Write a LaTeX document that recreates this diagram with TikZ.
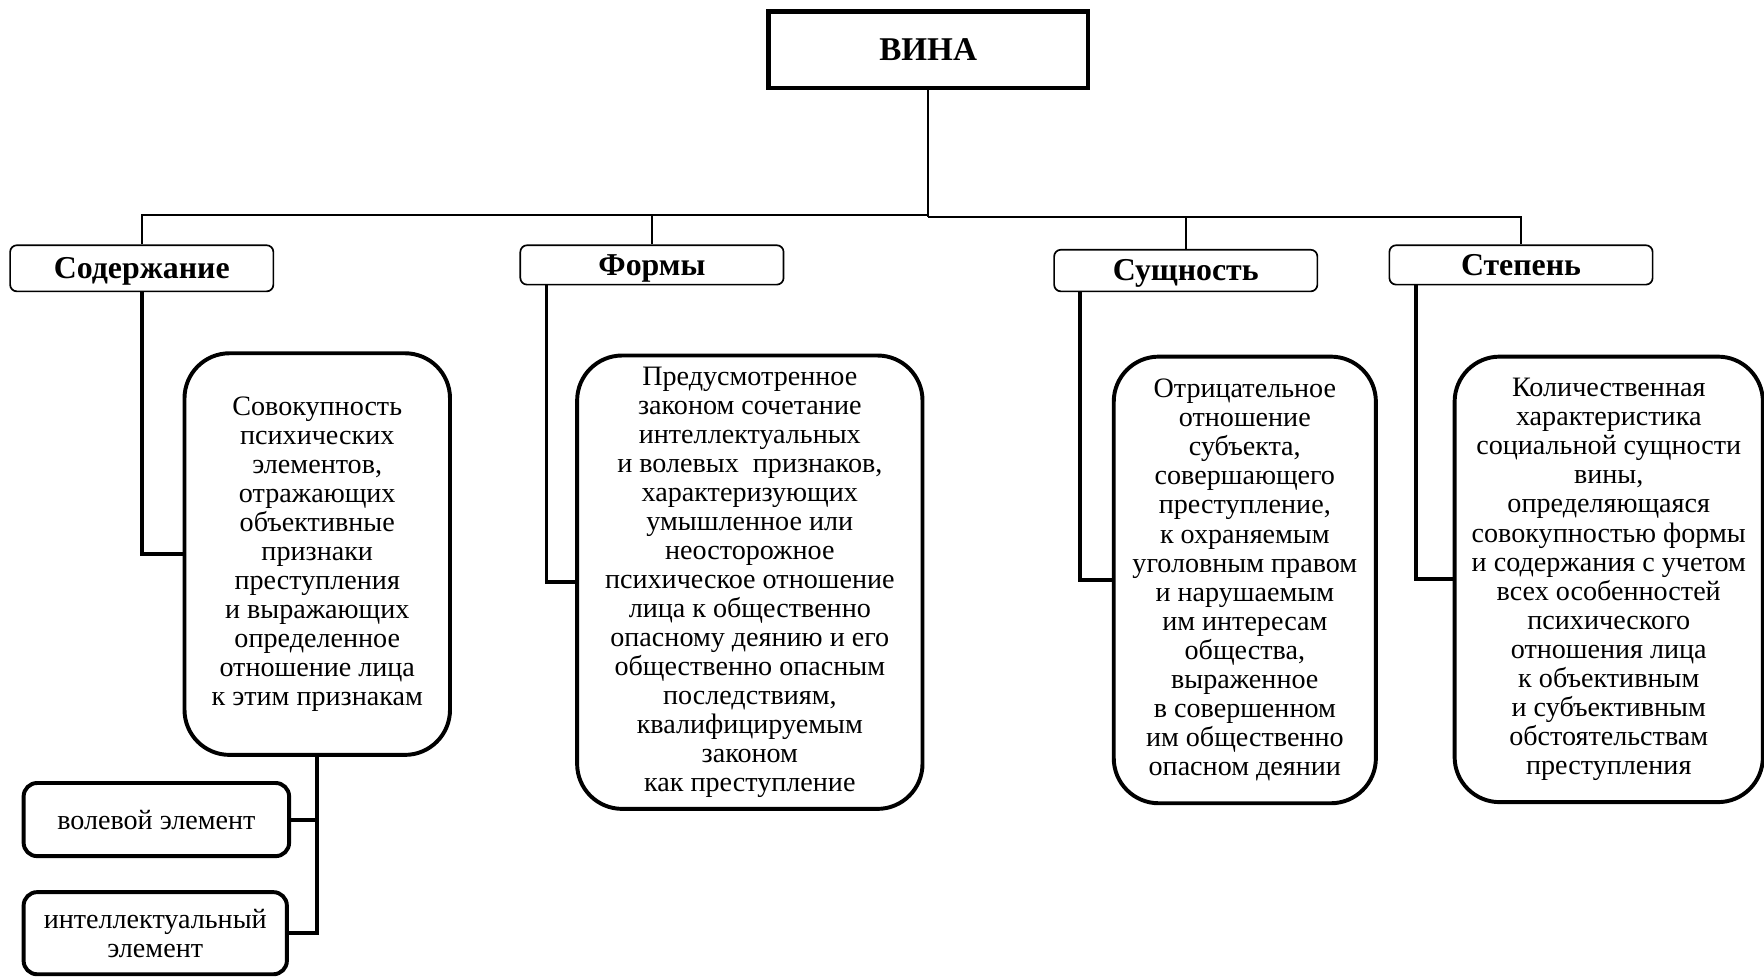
\documentclass[tikz,border=0pt]{standalone}
\usepackage{fontspec}
\setmainfont{Liberation Serif}
\begin{document}
\begin{tikzpicture}[x=1pt,y=-1pt,
  thinline/.style={line width=1.5pt},
  thickline/.style={line width=3.5pt},
  rootbox/.style={draw,line width=4pt,inner sep=0pt,minimum width=284pt,minimum height=68pt,font=\bfseries\fontsize{29.5}{32}\selectfont},
  titlebox/.style={draw,line width=1.5pt,rounded corners=6pt,inner sep=0pt,minimum width=234pt,text height=23pt,text depth=5pt,font=\bfseries\fontsize{28.3}{31}\selectfont},
  bigbox/.style={draw,line width=3.5pt,rounded corners=40pt,inner sep=0pt,align=center,font=\fontsize{25}{25.8}\selectfont},
  smallbox/.style={draw,line width=3.5pt,rounded corners=12pt,inner sep=0pt,align=center,minimum width=236pt,font=\fontsize{25}{25.8}\selectfont}
]
\useasboundingbox (0,0) rectangle (1568,868);
\node[rootbox] (vina) at (825,44) {ВИНА};
\node[titlebox,minimum height=41pt] (sod) at (126,238.5) {Содержание};
\node[titlebox,minimum height=35pt] (form) at (579.5,235.5) {Формы};
\node[titlebox,minimum height=37pt] (sush) at (1054,240.5) {Сущность};
\node[titlebox,minimum height=35pt] (step) at (1352,235.5) {Степень};

\node[bigbox,minimum width=236pt,minimum height=357pt] (b1) at (282,492.5) {Совокупность\\психических\\элементов,\\отражающих\\объективные\\признаки\\преступления\\и выражающих\\определенное\\отношение лица\\к этим признакам};
\node[bigbox,minimum width=307pt,minimum height=403pt] (b2) at (666.5,517.5) {Предусмотренное\\законом сочетание\\интеллектуальных\\и волевых\ \ признаков,\\характеризующих\\умышленное или\\неосторожное\\психическое отношение\\лица к общественно\\опасному деянию и его\\общественно опасным\\последствиям,\\квалифицируемым\\законом\\как преступление};
\node[bigbox,minimum width=233pt,minimum height=397pt] (b3) at (1106.5,515.5) {Отрицательное\\отношение\\субъекта,\\совершающего\\преступление,\\к охраняемым\\уголовным правом\\и нарушаемым\\им интересам\\общества,\\выраженное\\в совершенном\\им общественно\\опасном деянии};
\node[bigbox,minimum width=274pt,minimum height=396pt] (b4) at (1430,515) {Количественная\\характеристика\\социальной сущности\\вины,\\определяющаяся\\совокупностью формы\\и содержания с учетом\\всех особенностей\\психического\\отношения лица\\к объективным\\и субъективным\\обстоятельствам\\преступления};

\node[smallbox,minimum height=65pt] (vol) at (139,728.5) {волевой элемент};
\node[smallbox,minimum height=73pt,minimum width=234pt] (int) at (138,829.5) {интеллектуальный\\элемент};

\coordinate (busL) at (825,191);
\coordinate (busR) at (825,193);
\draw[thinline] (vina.south) -- (busR);
\draw[thinline] (busL) -| (sod.north);
\draw[thinline] (busL) -| (form.north);
\draw[thinline] (busR) -| (sush.north);
\draw[thinline] (busR) -| (step.north);

\draw[thickline] (sod.south) |- (b1.west);
\draw[thickline] ([xshift=24pt]form.south west) |- (b2.west);
\draw[thickline] ([xshift=24pt]sush.south west) |- (b3.west);
\draw[thickline] ([xshift=24pt]step.south west) |- (b4.west);
\draw[thickline] (b1.south) |- (int.east);
\draw[thickline] (vol.east) -- (vol.east -| b1.south);
\end{tikzpicture}
\end{document}
